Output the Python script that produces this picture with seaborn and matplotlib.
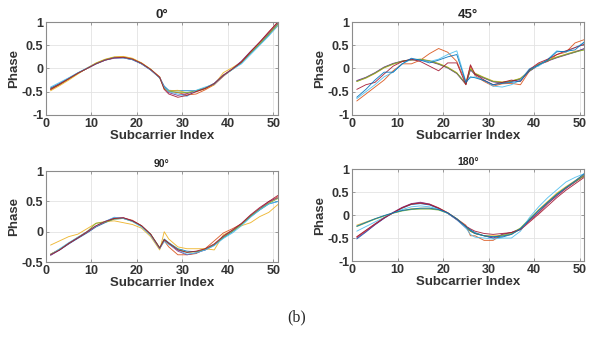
import pandas as pd
import seaborn as sns
import matplotlib.pyplot as plt

sub_idx = [1, 3, 5, 7, 9, 11, 13, 15, 17, 19, 21, 23, 25, 26, 27, 29, 31, 33, 35, 37, 39, 41, 43, 45, 47, 49, 51]

# Phase traces, 0 degrees
phase_0 = [
    [-0.42, -0.32, -0.21, -0.10, 0.00, 0.10, 0.18, 0.23, 0.23, 0.19, 0.10, -0.03, -0.20, -0.38, -0.47, -0.48, -0.48, -0.48, -0.42, -0.32, -0.15, -0.02, 0.12, 0.33, 0.52, 0.72, 0.95],
    [-0.46, -0.35, -0.23, -0.11, 0.00, 0.11, 0.19, 0.24, 0.25, 0.21, 0.12, -0.02, -0.18, -0.42, -0.50, -0.52, -0.57, -0.55, -0.46, -0.35, -0.17, -0.01, 0.15, 0.36, 0.56, 0.78, 1.00],
    [-0.48, -0.37, -0.25, -0.12, 0.01, 0.12, 0.20, 0.25, 0.26, 0.22, 0.12, -0.01, -0.19, -0.45, -0.48, -0.47, -0.53, -0.50, -0.44, -0.35, -0.09, 0.02, 0.14, 0.35, 0.54, 0.74, 0.92],
    [-0.43, -0.33, -0.21, -0.10, 0.00, 0.10, 0.18, 0.22, 0.23, 0.19, 0.10, -0.03, -0.20, -0.40, -0.52, -0.58, -0.54, -0.49, -0.43, -0.32, -0.14, -0.01, 0.16, 0.37, 0.56, 0.76, 0.97],
    [-0.44, -0.34, -0.22, -0.10, 0.00, 0.11, 0.19, 0.24, 0.24, 0.20, 0.11, -0.02, -0.20, -0.42, -0.49, -0.51, -0.52, -0.48, -0.42, -0.33, -0.15, -0.02, 0.13, 0.34, 0.53, 0.74, 0.96],
    [-0.40, -0.30, -0.20, -0.09, 0.01, 0.10, 0.18, 0.23, 0.23, 0.19, 0.10, -0.03, -0.20, -0.40, -0.50, -0.55, -0.60, -0.47, -0.40, -0.34, -0.16, -0.02, 0.10, 0.30, 0.50, 0.70, 0.92],
    [-0.45, -0.34, -0.22, -0.10, 0.00, 0.10, 0.18, 0.23, 0.24, 0.20, 0.11, -0.02, -0.19, -0.45, -0.55, -0.62, -0.58, -0.50, -0.43, -0.33, -0.15, -0.01, 0.14, 0.36, 0.57, 0.79, 1.00],
]

# Phase traces, 45 degrees
phase_45 = [
    [-0.27, -0.20, -0.10, 0.02, 0.10, 0.15, 0.18, 0.19, 0.16, 0.10, 0.02, -0.10, -0.33, -0.02, -0.12, -0.20, -0.28, -0.30, -0.28, -0.22, -0.05, 0.08, 0.17, 0.24, 0.30, 0.36, 0.42],
    [-0.70, -0.55, -0.40, -0.25, -0.05, 0.10, 0.10, 0.18, 0.32, 0.43, 0.35, 0.15, -0.30, 0.05, -0.15, -0.28, -0.38, -0.33, -0.32, -0.35, -0.05, 0.10, 0.15, 0.30, 0.35, 0.55, 0.62],
    [-0.28, -0.21, -0.11, 0.01, 0.09, 0.15, 0.18, 0.20, 0.17, 0.11, 0.03, -0.09, -0.35, 0.00, -0.10, -0.19, -0.27, -0.29, -0.27, -0.21, -0.04, 0.09, 0.18, 0.25, 0.31, 0.37, 0.40],
    [-0.26, -0.19, -0.09, 0.03, 0.11, 0.16, 0.19, 0.19, 0.15, 0.09, 0.01, -0.11, -0.34, -0.03, -0.13, -0.21, -0.29, -0.31, -0.28, -0.23, -0.06, 0.07, 0.16, 0.23, 0.29, 0.35, 0.43],
    [-0.28, -0.20, -0.10, 0.02, 0.10, 0.16, 0.19, 0.20, 0.16, 0.10, 0.02, -0.10, -0.32, -0.01, -0.11, -0.20, -0.28, -0.30, -0.27, -0.22, -0.05, 0.08, 0.17, 0.24, 0.30, 0.35, 0.40],
    [-0.65, -0.50, -0.35, -0.18, -0.08, 0.10, 0.20, 0.18, 0.15, 0.20, 0.30, 0.38, -0.28, -0.20, -0.18, -0.25, -0.38, -0.40, -0.35, -0.25, 0.00, 0.05, 0.20, 0.38, 0.35, 0.45, 0.55],
    [-0.45, -0.35, -0.30, -0.12, 0.05, 0.15, 0.20, 0.15, 0.05, -0.05, 0.12, 0.12, -0.35, 0.08, -0.12, -0.25, -0.35, -0.30, -0.25, -0.28, -0.02, 0.12, 0.20, 0.30, 0.38, 0.45, 0.52],
    [-0.62, -0.45, -0.25, -0.08, -0.08, 0.10, 0.22, 0.18, 0.12, 0.18, 0.25, 0.30, -0.30, -0.18, -0.20, -0.26, -0.35, -0.32, -0.30, -0.27, -0.03, 0.08, 0.18, 0.36, 0.37, 0.40, 0.57],
]

# Phase traces, 90 degrees
phase_90 = [
    [-0.38, -0.30, -0.20, -0.11, -0.02, 0.08, 0.15, 0.21, 0.22, 0.18, 0.10, -0.04, -0.27, -0.12, -0.18, -0.28, -0.32, -0.33, -0.30, -0.22, -0.10, 0.00, 0.12, 0.25, 0.36, 0.46, 0.50],
    [-0.37, -0.29, -0.19, -0.10, -0.01, 0.09, 0.16, 0.22, 0.23, 0.19, 0.10, -0.04, -0.28, -0.15, -0.25, -0.38, -0.38, -0.36, -0.28, -0.15, -0.02, 0.05, 0.13, 0.26, 0.38, 0.48, 0.58],
    [-0.22, -0.15, -0.08, -0.04, 0.05, 0.14, 0.17, 0.18, 0.15, 0.12, 0.06, -0.08, -0.30, 0.00, -0.12, -0.25, -0.28, -0.28, -0.28, -0.30, -0.05, 0.02, 0.10, 0.15, 0.25, 0.32, 0.45],
    [-0.39, -0.30, -0.20, -0.10, -0.01, 0.09, 0.17, 0.23, 0.23, 0.18, 0.09, -0.05, -0.27, -0.14, -0.20, -0.32, -0.38, -0.35, -0.30, -0.22, -0.08, 0.02, 0.13, 0.27, 0.38, 0.50, 0.56],
    [-0.37, -0.29, -0.19, -0.09, 0.00, 0.14, 0.16, 0.21, 0.22, 0.17, 0.09, -0.04, -0.26, -0.13, -0.19, -0.29, -0.34, -0.33, -0.29, -0.21, -0.09, 0.01, 0.12, 0.26, 0.37, 0.47, 0.55],
    [-0.38, -0.28, -0.18, -0.09, 0.00, 0.09, 0.17, 0.24, 0.22, 0.17, 0.08, -0.06, -0.28, -0.16, -0.21, -0.30, -0.37, -0.35, -0.30, -0.23, -0.11, -0.02, 0.10, 0.24, 0.36, 0.46, 0.50],
    [-0.38, -0.30, -0.19, -0.10, 0.00, 0.10, 0.17, 0.22, 0.23, 0.18, 0.10, -0.04, -0.27, -0.13, -0.19, -0.30, -0.34, -0.32, -0.28, -0.20, -0.07, 0.03, 0.14, 0.28, 0.40, 0.50, 0.60],
]

# Phase traces, 180 degrees
phase_180 = [
    [-0.52, -0.37, -0.21, -0.07, 0.05, 0.15, 0.23, 0.25, 0.22, 0.14, 0.04, -0.10, -0.25, -0.32, -0.38, -0.45, -0.50, -0.48, -0.42, -0.30, -0.10, 0.10, 0.28, 0.45, 0.60, 0.74, 0.88],
    [-0.48, -0.34, -0.20, -0.06, 0.05, 0.16, 0.24, 0.27, 0.24, 0.16, 0.05, -0.08, -0.22, -0.45, -0.45, -0.55, -0.55, -0.42, -0.38, -0.30, -0.12, 0.05, 0.25, 0.42, 0.58, 0.72, 0.85],
    [-0.22, -0.15, -0.08, -0.02, 0.05, 0.10, 0.14, 0.15, 0.15, 0.12, 0.05, -0.08, -0.25, -0.35, -0.40, -0.45, -0.45, -0.45, -0.42, -0.30, -0.10, 0.12, 0.30, 0.48, 0.62, 0.75, 0.88],
    [-0.50, -0.36, -0.21, -0.07, 0.06, 0.17, 0.25, 0.28, 0.24, 0.15, 0.04, -0.10, -0.28, -0.35, -0.40, -0.45, -0.50, -0.42, -0.38, -0.30, -0.12, 0.06, 0.25, 0.42, 0.58, 0.72, 0.86],
    [-0.25, -0.17, -0.09, -0.02, 0.04, 0.09, 0.12, 0.13, 0.13, 0.11, 0.04, -0.08, -0.26, -0.35, -0.40, -0.45, -0.47, -0.44, -0.40, -0.28, -0.08, 0.10, 0.28, 0.46, 0.60, 0.73, 0.85],
    [-0.35, -0.25, -0.15, -0.05, 0.05, 0.12, 0.18, 0.20, 0.18, 0.13, 0.04, -0.10, -0.28, -0.42, -0.48, -0.50, -0.52, -0.50, -0.50, -0.35, -0.05, 0.18, 0.38, 0.55, 0.72, 0.82, 0.90],
    [-0.47, -0.33, -0.19, -0.06, 0.05, 0.16, 0.24, 0.26, 0.23, 0.15, 0.05, -0.09, -0.24, -0.30, -0.35, -0.40, -0.42, -0.40, -0.38, -0.32, -0.15, 0.02, 0.20, 0.38, 0.54, 0.68, 0.82],
    [-0.24, -0.16, -0.08, -0.01, 0.05, 0.10, 0.13, 0.15, 0.15, 0.12, 0.05, -0.08, -0.25, -0.33, -0.40, -0.45, -0.47, -0.46, -0.42, -0.30, -0.10, 0.10, 0.28, 0.45, 0.60, 0.74, 0.90],
]

titles = ['0°', '45°', '90°', '180°']
y_ranges = [(-1, 1), (-1, 1), (-0.5, 1), (-1, 1)]
y_ticks = [[-1, -0.5, 0, 0.5, 1], [-1, -0.5, 0, 0.5, 1], [-0.5, 0, 0.5, 1], [-1, -0.5, 0, 0.5, 1]]
y_ticklabels = [['-1', '-0.5', '0', '0.5', '1'], ['-1', '-0.5', '0', '0.5', '1'],
                ['-0.5', '0', '0.5', '1'], ['-1', '-0.5', '0', '0.5', '1']]

# MATLAB default line colours
matlab_colors = ['#0072BD', '#D95319', '#EDB120', '#7E2F8E', '#77AC30', '#4DBEEE', '#A2142F']

sns.set_theme(style='whitegrid')
plt.rcParams['font.family'] = ['Liberation Sans', 'DejaVu Sans']

fig = plt.figure(figsize=(5.9, 3.39), dpi=100)

# axes boxes in figure fractions (left, bottom, width, height)
boxes = [
    [0.078, 0.661, 0.393, 0.274],
    [0.597, 0.661, 0.393, 0.274],
    [0.078, 0.227, 0.393, 0.268],
    [0.597, 0.230, 0.393, 0.271],
]
title_sizes = [9.5, 9.5, 7.5, 7.5]

for k, traces in enumerate([phase_0, phase_45, phase_90, phase_180]):
    rows = []
    for i, tr in enumerate(traces):
        for x, y in zip(sub_idx, tr):
            rows.append({'sub': x, 'phase': y, 'trace': f't{i}'})
    df = pd.DataFrame(rows)
    pal = [matlab_colors[i % 7] for i in range(len(traces))]

    ax = fig.add_axes(boxes[k])
    sns.lineplot(data=df, x='sub', y='phase', hue='trace', palette=pal,
                 estimator=None, sort=False, legend=False, linewidth=0.65, alpha=0.9, ax=ax)

    ax.set_xlim(0, 51)
    ax.set_ylim(*y_ranges[k])
    ax.set_xticks([0, 10, 20, 30, 40, 50])
    ax.set_xticklabels(['0', '10', '20', '30', '40', '50'], fontsize=9, fontweight='bold', color='#333333')
    ax.set_yticks(y_ticks[k])
    ax.set_yticklabels(y_ticklabels[k], fontsize=9, fontweight='bold', color='#333333')
    ax.set_xlabel('Subcarrier Index', fontsize=9.5, fontweight='bold', color='#333333', labelpad=0)
    ax.set_ylabel('Phase', fontsize=9.5, fontweight='bold', color='#333333', labelpad=1)
    ax.set_title(titles[k], fontsize=title_sizes[k], fontweight='bold', pad=3)

    ax.grid(True, color='#e3e3e3', linewidth=0.6)
    for s in ax.spines.values():
        s.set_color('#8c8c8c')
        s.set_linewidth(0.8)
    ax.tick_params(direction='in', length=2, width=0.6, color='#8c8c8c', pad=2,
                   top=True, right=True, bottom=True, left=True)

fig.text(0.502, 0.065, '(b)', family='Liberation Serif', fontsize=11.5, ha='center', va='center')

fig.savefig('out.png', dpi=100, facecolor='white')
